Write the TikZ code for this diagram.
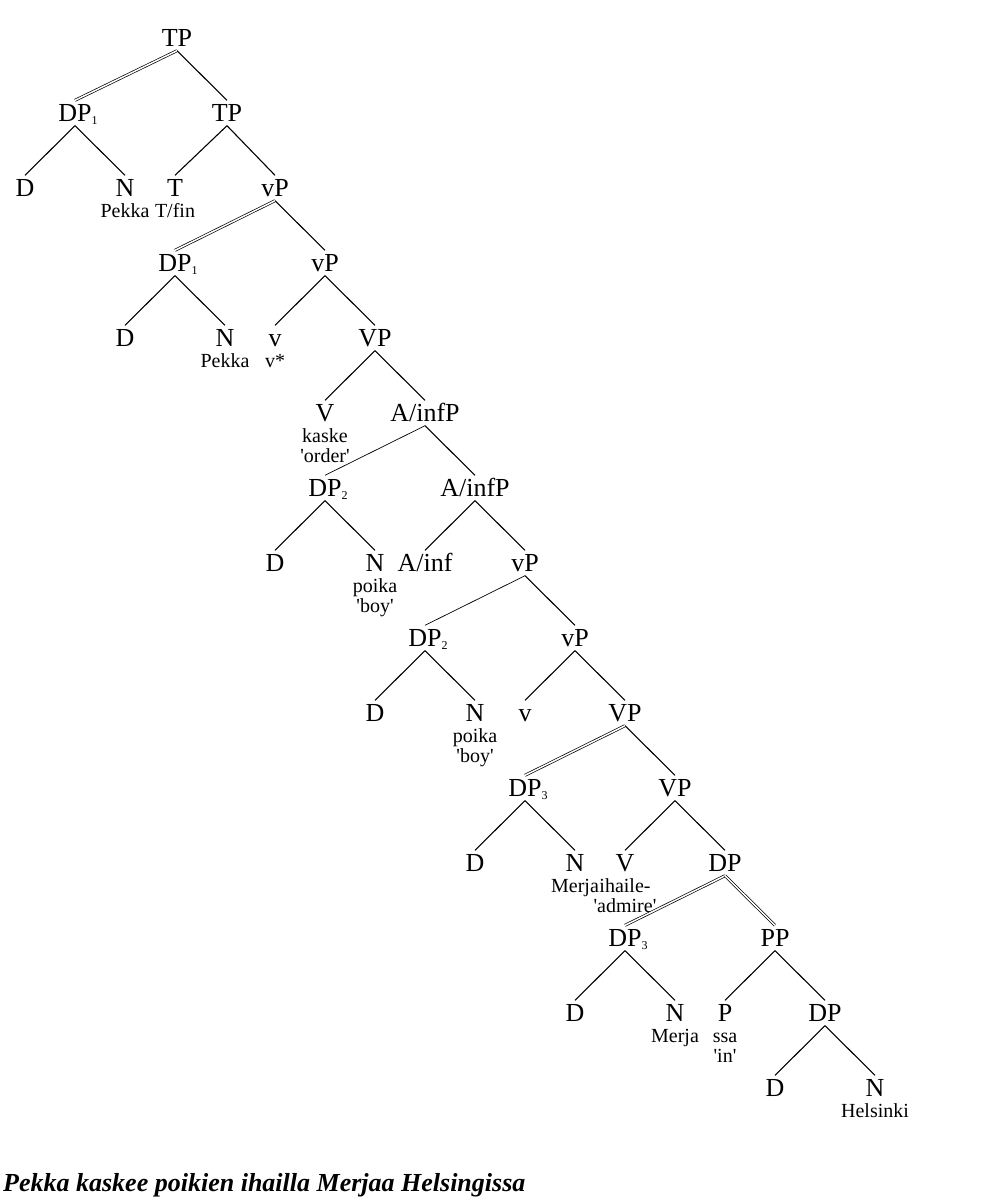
\documentclass[tikz,border=0pt]{standalone}
\usepackage{fontspec}
\setmainfont{Liberation Serif}
\usetikzlibrary{positioning}
\newcommand{\q}[1]{\textquotesingle#1\textquotesingle}
\newcommand{\sub}[1]{\rlap{\fontsize{12}{12}\selectfont\raisebox{-3pt}{#1}}}
\tikzset{
  cat/.style={font=\fontsize{26}{28}\selectfont, inner xsep=0pt, inner ysep=4pt, text height=17pt, text depth=0pt},
  lex/.style={font=\fontsize{20}{20}\selectfont, inner sep=0pt, align=center},
  edge/.style={line width=1.1pt},
  thin edge/.style={line width=0.7pt},
  move/.style={line width=0.7pt, double, double distance=1.5pt}
}
\begin{document}
\begin{tikzpicture}[x=1pt,y=-1pt]
      \useasboundingbox (0,0) rectangle (1000,1200);

      \node[cat] (tp) at (177,38) {TP};
      \node[cat] (dpa) at (75,113) {DP\sub{1}};
      \node[cat] (tpb) at (227,113) {TP};
      \node[cat] (da) at (25,188) {D};
      \node[cat] (na) at (125,188) {N};
      \node[lex, below=3pt of na] (na-w) {Pekka};
      \node[cat] (ta) at (175,188) {T};
      \node[lex, below=3pt of ta] (ta-w) {T/fin};
      \node[cat] (vpa) at (275,188) {vP};

      \node[cat] (dpb) at (175,263) {DP\sub{1}};
      \node[cat] (vpb) at (325,263) {vP};
      \node[cat] (db) at (125,338) {D};
      \node[cat] (nb) at (225,338) {N};
      \node[lex, below=3pt of nb] (nb-w) {Pekka};
      \node[cat] (va) at (275,338) {v};
      \node[lex, below=3pt of va] (va-w) {v*};
      \node[cat] (vpc) at (375,338) {VP};

      \node[cat] (vb) at (325,413) {V};
      \node[lex, below=3pt of vb] (vb-w) {kaske\\\q{order}};
      \node[cat] (infa) at (425,413) {A/infP};
      \node[cat] (dpc) at (325,488) {DP\sub{2}};
      \node[cat] (infb) at (475,488) {A/infP};
      \node[cat] (dc) at (275,563) {D};
      \node[cat] (nc) at (375,563) {N};
      \node[lex, below=3pt of nc] (nc-w) {poika\\\q{boy}};
      \node[cat] (inf) at (425,563) {A/inf};
      \node[cat] (vpd) at (525,563) {vP};

      \node[cat] (dpd) at (425,638) {DP\sub{2}};
      \node[cat] (vpe) at (575,638) {vP};
      \node[cat] (dd) at (375,713) {D};
      \node[cat] (nd) at (475,713) {N};
      \node[lex, below=3pt of nd] (nd-w) {poika\\\q{boy}};
      \node[cat] (vc) at (525,713) {v};
      \node[cat] (vpf) at (625,713) {VP};

      \node[cat] (dpe) at (525,788) {DP\sub{3}};
      \node[cat] (vpg) at (675,788) {VP};
      \node[cat] (de) at (475,863) {D};
      \node[cat] (ne) at (575,863) {N};
      \node[lex, below=3pt of ne] (ne-w) {Merja};
      \node[cat] (vd) at (625,863) {V};
      \node[lex, below=3pt of vd] (vd-w) {ihaile-\\\q{admire}};
      \node[cat] (dpf) at (725,863) {DP};

      \node[cat] (dpg) at (625,938) {DP\sub{3}};
      \node[cat] (pp) at (775,938) {PP};
      \node[cat] (df) at (575,1013) {D};
      \node[cat] (nf) at (675,1013) {N};
      \node[lex, below=3pt of nf] (nf-w) {Merja};
      \node[cat] (p) at (725,1013) {P};
      \node[lex, below=3pt of p] (p-w) {\vphantom{k}ssa\\\q{in}};
      \node[cat] (dph) at (825,1013) {DP};
      \node[cat] (dg) at (775,1088) {D};
      \node[cat] (ng) at (875,1088) {N};
      \node[lex, below=3pt of ng] (ng-w) {Helsinki};

      \node[anchor=west, inner sep=0pt, font=\fontsize{26}{28}\selectfont\bfseries\itshape] (gloss) at (3,1185) {Pekka kaskee poikien ihailla Merjaa Helsingissa};

      % branches
      \draw[move] (tp.south) -- (dpa.north);
      \draw[edge] (tp.south) -- (tpb.north);
      \draw[edge] (dpa.south) -- (da.north);
      \draw[edge] (dpa.south) -- (na.north);
      \draw[edge] (tpb.south) -- (ta.north);
      \draw[edge] (tpb.south) -- (vpa.north);
      \draw[move] (vpa.south) -- (dpb.north);
      \draw[edge] (vpa.south) -- (vpb.north);
      \draw[edge] (dpb.south) -- (db.north);
      \draw[edge] (dpb.south) -- (nb.north);
      \draw[edge] (vpb.south) -- (va.north);
      \draw[edge] (vpb.south) -- (vpc.north);
      \draw[edge] (vpc.south) -- (vb.north);
      \draw[edge] (vpc.south) -- (infa.north);
      \draw[thin edge] (infa.south) -- (dpc.north);
      \draw[edge] (infa.south) -- (infb.north);
      \draw[edge] (dpc.south) -- (dc.north);
      \draw[edge] (dpc.south) -- (nc.north);
      \draw[edge] (infb.south) -- (inf.north);
      \draw[edge] (infb.south) -- (vpd.north);
      \draw[thin edge] (vpd.south) -- (dpd.north);
      \draw[edge] (vpd.south) -- (vpe.north);
      \draw[edge] (dpd.south) -- (dd.north);
      \draw[edge] (dpd.south) -- (nd.north);
      \draw[edge] (vpe.south) -- (vc.north);
      \draw[edge] (vpe.south) -- (vpf.north);
      \draw[move] (vpf.south) -- (dpe.north);
      \draw[edge] (vpf.south) -- (vpg.north);
      \draw[edge] (dpe.south) -- (de.north);
      \draw[edge] (dpe.south) -- (ne.north);
      \draw[edge] (vpg.south) -- (vd.north);
      \draw[edge] (vpg.south) -- (dpf.north);
      \draw[move] (dpf.south) -- (dpg.north);
      \draw[move] (dpf.south) -- (pp.north);
      \draw[edge] (dpg.south) -- (df.north);
      \draw[edge] (dpg.south) -- (nf.north);
      \draw[edge] (pp.south) -- (p.north);
      \draw[edge] (pp.south) -- (dph.north);
      \draw[edge] (dph.south) -- (dg.north);
      \draw[edge] (dph.south) -- (ng.north);
\end{tikzpicture}
\end{document}
